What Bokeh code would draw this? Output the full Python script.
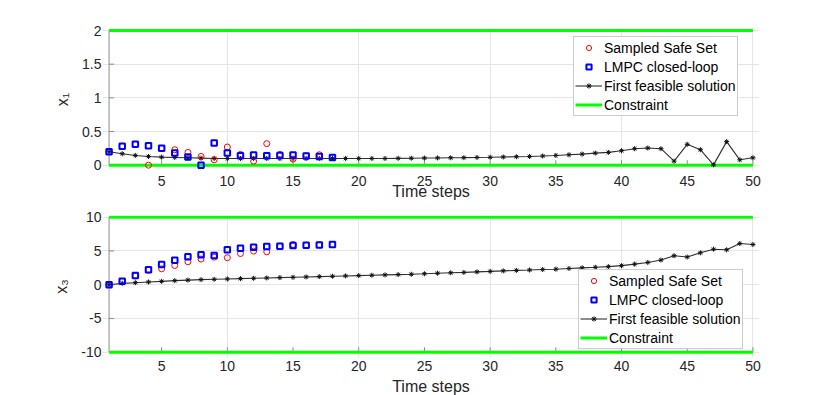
from bokeh.plotting import figure
from bokeh.layouts import column
from bokeh.models import (Range1d, LinearAxis, FixedTicker, Legend, LegendItem,
                          PrintfTickFormatter)
from bokeh.embed import file_html
from bokeh.resources import INLINE

# ---------------- data ----------------
time_steps = list(range(1, 51))
lmpc_steps = list(range(1, 19))
safe_set_steps = list(range(1, 18))

x1_first_feasible = [0.20, 0.17, 0.145, 0.13, 0.12, 0.115, 0.11, 0.105, 0.10, 0.10,
                     0.10, 0.10, 0.10, 0.10, 0.10, 0.10, 0.10, 0.10, 0.10, 0.10,
                     0.10, 0.10, 0.102, 0.104, 0.106, 0.108, 0.11, 0.112, 0.115, 0.118,
                     0.122, 0.126, 0.13, 0.137, 0.145, 0.155, 0.165, 0.18, 0.19, 0.215,
                     0.245, 0.255, 0.245, 0.06, 0.31, 0.23, 0.005, 0.35, 0.08, 0.11]
x1_lmpc = [0.20, 0.28, 0.31, 0.29, 0.25, 0.18, 0.12, 0.0, 0.33, 0.18,
           0.14, 0.15, 0.14, 0.145, 0.15, 0.135, 0.13, 0.115]
x1_safe_set = [0.20, 0.28, 0.31, 0.0, 0.25, 0.23, 0.19, 0.13, 0.08, 0.27,
               0.16, 0.06, 0.32, 0.16, 0.09, 0.14, 0.155]

x3_first_feasible = [0.0, 0.2, 0.3, 0.4, 0.5, 0.6, 0.68, 0.75, 0.8, 0.85,
                     0.9, 0.95, 1.0, 1.05, 1.1, 1.15, 1.2, 1.25, 1.3, 1.35,
                     1.4, 1.45, 1.5, 1.55, 1.62, 1.7, 1.76, 1.82, 1.9, 1.97,
                     2.05, 2.12, 2.18, 2.25, 2.3, 2.4, 2.5, 2.58, 2.68, 2.82,
                     3.05, 3.3, 3.65, 4.3, 4.1, 4.72, 5.26, 5.17, 6.1, 5.95]
x3_lmpc = [0.0, 0.52, 1.36, 2.2, 3.0, 3.63, 4.13, 4.42, 4.33, 5.17,
           5.41, 5.56, 5.66, 5.71, 5.8, 5.86, 5.9, 5.95]
x3_safe_set = [0.0, 0.5, 1.3, 2.15, 2.35, 2.85, 3.4, 3.8, 4.08, 4.0,
               4.62, 4.97, 4.87, 5.7, 5.95, 5.85, 5.9]

x1_constraints = [0, 2]
x3_constraints = [-10, 10]

time_ticks = [5, 10, 15, 20, 25, 30, 35, 40, 45, 50]
x1_ticks = [0, 0.5, 1, 1.5, 2]
x3_ticks = [-10, -5, 0, 5, 10]

legend_labels = ["Sampled Safe Set", "LMPC closed-loop", "First feasible solution", "Constraint"]
x_label = "Time steps"
y_labels = ["x\u2081", "x\u2083"]

FONT = "Liberation Sans"
AXIS_GRAY = "#8c8c8c"
TEXT = "#262626"
FRAME_W, FRAME_H = 657, 142
LEFT = 102


def panel(first, lmpc, safe, limits, ticks, y_label, y_range, border_top,
          border_bottom, legend_xy, tick_standoff, xlabel_standoff):
    p = figure(frame_width=FRAME_W, frame_height=FRAME_H,
               min_border_left=LEFT, min_border_right=830 - LEFT - FRAME_W,
               min_border_top=border_top, min_border_bottom=border_bottom,
               x_range=Range1d(0.5, 50.5), y_range=Range1d(*y_range),
               x_axis_location=None, y_axis_location=None,
               output_backend="svg", toolbar_location=None)
    p.outline_line_color = None
    p.background_fill_color = "white"
    p.border_fill_color = "white"

    # pixel -> data helpers for the little inward tick marks
    dx = 5 * (50.5 - 0.5) / FRAME_W
    dy = 5 * (y_range[1] - y_range[0]) / FRAME_H

    yax = LinearAxis(ticker=FixedTicker(ticks=ticks),
                     formatter=PrintfTickFormatter(format="%g"))
    yax.axis_line_color = None
    yax.major_tick_line_color = None
    yax.minor_tick_line_color = None
    yax.major_tick_in = 0
    yax.major_tick_out = 0
    yax.major_label_standoff = 1
    yax.major_label_text_font = FONT
    yax.major_label_text_font_size = "14px"
    yax.major_label_text_color = TEXT
    yax.axis_label = y_label
    yax.axis_label_text_font = FONT
    yax.axis_label_text_font_size = "16px"
    yax.axis_label_text_font_style = "normal"
    yax.axis_label_text_color = TEXT
    yax.axis_label_standoff = 8
    p.add_layout(yax, "left")

    xax = LinearAxis(ticker=FixedTicker(ticks=time_ticks),
                     formatter=PrintfTickFormatter(format="%g"))
    xax.axis_line_color = None
    xax.major_tick_line_color = None
    xax.minor_tick_line_color = None
    xax.major_tick_in = 0
    xax.major_tick_out = 0
    xax.major_label_standoff = tick_standoff
    xax.major_label_text_font = FONT
    xax.major_label_text_font_size = "14px"
    xax.major_label_text_color = TEXT
    xax.axis_label = x_label
    xax.axis_label_text_font = FONT
    xax.axis_label_text_font_size = "16px"
    xax.axis_label_text_font_style = "normal"
    xax.axis_label_text_color = TEXT
    xax.axis_label_standoff = xlabel_standoff
    p.add_layout(xax, "below")

    # axis line and inward ticks drawn at x = first time step / y = lower limit
    x0 = time_steps[0]
    p.line([x0, x0], [limits[0], limits[1]], line_color=AXIS_GRAY, line_width=1)
    p.segment(x0=[x0] * len(ticks), y0=ticks, x1=[x0 + dx] * len(ticks), y1=ticks,
              line_color=AXIS_GRAY, line_width=1)
    p.segment(x0=time_ticks, y0=[limits[0]] * len(time_ticks), x1=time_ticks,
              y1=[limits[0] + dy] * len(time_ticks), line_color=AXIS_GRAY, line_width=1)

    cons = []
    for lim in limits:
        cons.append(p.line([time_steps[0], time_steps[-1]], [lim, lim],
                           line_color="#00ff00", line_width=3))
    ff_line = p.line(time_steps, first, line_color="#303030", line_width=1.1)
    ff_mark = p.scatter(time_steps, first, marker="asterisk", size=5,
                        line_color="#111111", line_width=1)
    safe_r = p.scatter(safe_set_steps, safe, marker="circle", size=6,
                       line_color="#ff0000", fill_color=None, line_width=1)
    lmpc_r = p.scatter(lmpc_steps, lmpc, marker="square", size=5.5,
                       line_color="#0000ff", fill_color=None, line_width=2)

    legend = Legend(items=[
        LegendItem(label=legend_labels[0], renderers=[safe_r]),
        LegendItem(label=legend_labels[1], renderers=[lmpc_r]),
        LegendItem(label=legend_labels[2], renderers=[ff_line, ff_mark]),
        LegendItem(label=legend_labels[3], renderers=[cons[0]]),
    ], location=legend_xy)
    legend.label_text_font = FONT
    legend.label_text_font_size = "14px"
    legend.label_text_color = "#000000"
    legend.glyph_width = 27
    legend.glyph_height = 13
    legend.label_height = 19
    legend.label_standoff = 2
    legend.spacing = 0
    legend.padding = 1
    legend.margin = 0
    legend.border_line_color = "#999999"
    legend.border_line_width = 1
    legend.background_fill_color = "white"
    legend.background_fill_alpha = 1
    p.add_layout(legend, "center")
    return p


top = panel(x1_first_feasible, x1_lmpc, x1_safe_set, x1_constraints, x1_ticks, y_labels[0],
            (-0.0787, 2.0297), 28, 38, (471, 54), 5, -6)
bottom = panel(x3_first_feasible, x3_lmpc, x3_safe_set, x3_constraints, x3_ticks, y_labels[1],
               (-10.785, 10.252), 7, 38, (476, 8), 3, 4)

layout = column(top, bottom, spacing=0)

with open("out.html", "w") as f:
    f.write(file_html(layout, INLINE))
